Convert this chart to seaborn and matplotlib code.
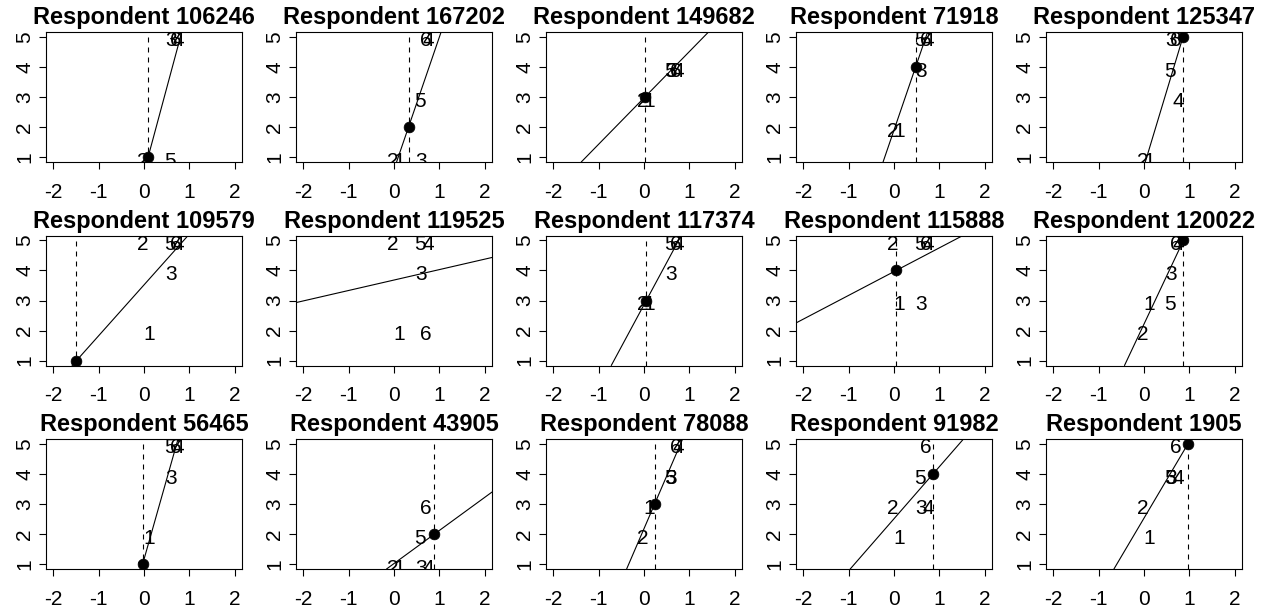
import numpy as np
import pandas as pd
import matplotlib
matplotlib.use("Agg")
import matplotlib.pyplot as plt
import seaborn as sns

# ---------------- data ----------------
respondents = ["106246", "167202", "149682", "71918", "125347",
               "109579", "119525", "117374", "115888", "120022",
               "56465", "43905", "78088", "91982", "1905"]
item_labels = ["1", "2", "3", "4", "5", "6"]
item_x = [0.12, -0.03, 0.60, 0.76, 0.57, 0.70]
ratings = [
    [1, 1, 5, 5, 1, 5],
    [1, 1, 1, 5, 3, 5],
    [3, 3, 4, 4, 4, 4],
    [2, 2, 4, 5, 5, 5],
    [1, 1, 5, 3, 4, 5],
    [2, 5, 4, 5, 5, 5],
    [2, 5, 4, 5, 5, 2],
    [3, 3, 4, 5, 5, 5],
    [3, 5, 3, 5, 5, 5],
    [3, 2, 4, 5, 3, 5],
    [2, 1, 4, 5, 5, 5],
    [1, 1, 1, 1, 2, 3],
    [3, 2, 4, 5, 4, 5],
    [2, 3, 3, 3, 4, 5],
    [2, 3, 4, 4, 4, 5],
]
ideal_x = [0.09, 0.32, 0.02, 0.48, 0.86, -1.49, np.nan, 0.05, 0.05, 0.87,
           -0.03, 0.89, 0.24, 0.86, 0.97]
ideal_y = [1, 2, 3, 4, 5, 1, np.nan, 3, 4, 5, 1, 2, 3, 4, 5]
intercepts = [0.496, 0.592, 2.97, 1.90, 0.70, 3.518, 3.68, 2.86, 3.96, 2.216,
              1.16, 1.021, 2.18, 2.51, 2.53]
slopes = [5.6, 4.4, 1.54, 4.4, 5.0, 1.69, 0.347, 2.8, 0.79, 3.2,
          5.33, 1.1, 3.5, 1.73, 2.55]
x_ticks = [-2, -1, 0, 1, 2]
y_ticks = [1, 2, 3, 4, 5]

# ---------------- style ----------------
sns.set_theme(style="white")
plt.rcParams["font.family"] = ["Liberation Sans", "DejaVu Sans"]
plt.rcParams["axes.unicode_minus"] = False

W, H = 1270, 609
fig = plt.figure(figsize=(W / 100, H / 100), dpi=100)
fig.patch.set_facecolor("white")

for i, resp in enumerate(respondents):
    row, col = divmod(i, 5)
    left_px = 46 + 250 * col
    top_px = 32 + 203.5 * row
    ax = fig.add_axes([left_px / W, 1 - (top_px + 130) / H, 196 / W, 130 / H])
    ax.set_facecolor("white")
    ax.set_xlim(-2.16, 2.16)
    ax.set_ylim(0.84, 5.16)

    df = pd.DataFrame({"x": item_x, "y": ratings[i], "lab": item_labels})
    for _, r in df.iterrows():
        ax.annotate(r["lab"], (r["x"], r["y"]), xytext=(0, -3),
                    textcoords="offset points", ha="center", va="center",
                    fontsize=15, color="black", clip_on=True, zorder=3)

    ax.axline((0, intercepts[i]), slope=slopes[i], color="black", lw=0.8, zorder=2)

    if not np.isnan(ideal_x[i]):
        ax.axvline(ideal_x[i], color="black", lw=0.8, ls=(0, (4.5, 4.5)), zorder=2)
        pt = pd.DataFrame({"x": [ideal_x[i]], "y": [ideal_y[i]]})
        sns.scatterplot(data=pt, x="x", y="y", ax=ax, color="black", s=60,
                        edgecolor="black", linewidth=0.5, zorder=5, legend=False)

    ax.set_xlabel("")
    ax.set_ylabel("")
    ax.set_xticks(x_ticks)
    ax.set_yticks(y_ticks)
    ax.set_xticklabels([str(t) for t in x_ticks])
    ax.set_yticklabels([str(t) for t in y_ticks])
    ax.tick_params(axis="both", direction="out", length=5, width=0.8,
                   color="black", labelsize=15, labelcolor="black",
                   bottom=True, left=True)
    ax.tick_params(axis="x", pad=10)
    ax.tick_params(axis="y", pad=3.5)
    for lab in ax.get_yticklabels():
        lab.set_rotation(90)
        lab.set_va("center")
    for s in ax.spines.values():
        s.set_visible(True)
        s.set_color("black")
        s.set_linewidth(0.8)
    ax.set_title(f"Respondent {resp}", fontsize=17, fontweight="bold",
                 pad=5.5, color="black")

fig.savefig("out.png", dpi=100, facecolor="white")
